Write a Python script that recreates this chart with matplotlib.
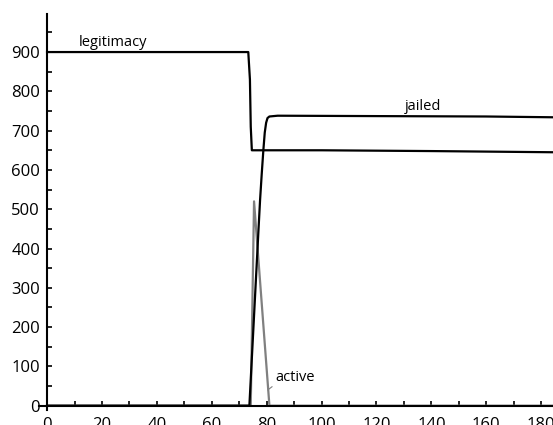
import matplotlib
matplotlib.use('Agg')
import matplotlib.pyplot as plt

# time steps and values
legit_t = [0, 73.3, 73.9, 74.2, 74.6, 100, 140, 184.3]
legit_v = [900, 900, 830, 710, 650, 650, 648, 645]

jailed_t = [0, 73.7, 75, 76, 77, 77.6, 78.2, 78.8, 79.3, 79.8, 80.3, 81, 84, 120, 160, 184.3]
jailed_v = [0, 0, 175, 310, 445, 524, 590, 651, 695, 720, 732, 736, 738, 737, 736, 734]

active_t = [0, 74.2, 75.4, 81.0, 184.3]
active_v = [0, 0, 520, 0, 0]

x_ticks = list(range(0, 181, 20))
y_ticks = list(range(0, 901, 100))

plt.rcParams['font.family'] = ['Open Sans', 'DejaVu Sans']

fig = plt.figure(figsize=(5.53, 4.25), dpi=100)
ax = fig.add_axes([0.0702, 0.0362, 0.9298, 0.931])

ax.plot(legit_t, legit_v, color='black', lw=1.6, zorder=3)
ax.plot(jailed_t, jailed_v, color='black', lw=1.6, zorder=3)
ax.plot(active_t, active_v, color='#808080', lw=1.6, zorder=2)

ax.set_xlim(-3, 184.3)
ax.set_ylim(-10, 997)

ax.spines['top'].set_visible(False)
ax.spines['right'].set_visible(False)
ax.spines['left'].set_position(('data', 0))
ax.spines['bottom'].set_position(('data', 0))
ax.spines['left'].set_linewidth(1.5)
ax.spines['bottom'].set_linewidth(1.5)

ax.set_xticks(x_ticks)
ax.set_xticks(range(0, 181, 10), minor=True)
ax.set_yticks(y_ticks)
ax.set_yticks(range(0, 951, 50), minor=True)
ax.tick_params(which='both', direction='in', length=3.5, width=1.2)
ax.tick_params(axis='y', labelsize=12, pad=5)
ax.tick_params(axis='x', labelsize=12, pad=8)

ax.text(11.7, 916, 'legitimacy', fontsize=10.5, ha='left', va='baseline')
ax.text(130.4, 753, 'jailed', fontsize=10.5, ha='left', va='baseline')
ax.annotate('active', xy=(80.4, 40), xytext=(83, 64), fontsize=10.5,
            ha='left', va='baseline',
            arrowprops=dict(arrowstyle='-', color='#808080', lw=0.8,
                            shrinkA=0, shrinkB=0, relpos=(0, 0)))

fig.savefig('out.png', dpi=100)
